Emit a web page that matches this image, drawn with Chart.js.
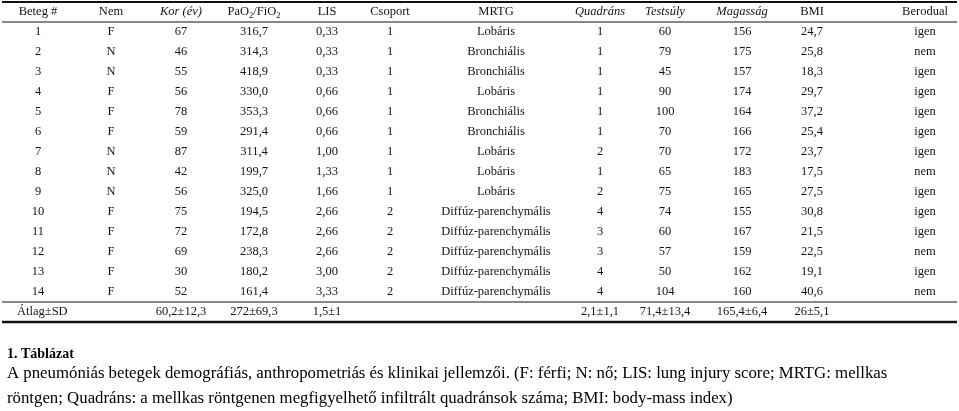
<!DOCTYPE html>
<html>
<head>
<meta charset="utf-8">
<script src="https://cdn.jsdelivr.net/npm/chart.js@4.4.1/dist/chart.umd.min.js"></script>
<style>
  html, body { margin: 0; padding: 0; background: #ffffff; }
  #wrap { width: 959px; height: 411px; }
</style>
</head>
<body>
<div id="wrap"><canvas id="c" width="959" height="411"></canvas></div>
<script>
// ---------------- DATA ----------------
const headers = ['Beteg #', 'Nem', 'Kor (év)', 'PaO_2/FiO_2', 'LIS', 'Csoport', 'MRTG', 'Quadráns', 'Testsúly', 'Magasság', 'BMI', 'Berodual'];
const patientIds = [1, 2, 3, 4, 5, 6, 7, 8, 9, 10, 11, 12, 13, 14];
const sex = ['F', 'N', 'N', 'F', 'F', 'F', 'N', 'N', 'N', 'F', 'F', 'F', 'F', 'F'];
const age = [67, 46, 55, 56, 78, 59, 87, 42, 56, 75, 72, 69, 30, 52];
const paoFio = [316.7, 314.3, 418.9, 330.0, 353.3, 291.4, 311.4, 199.7, 325.0, 194.5, 172.8, 238.3, 180.2, 161.4];
const lis = [0.33, 0.33, 0.33, 0.66, 0.66, 0.66, 1.00, 1.33, 1.66, 2.66, 2.66, 2.66, 3.00, 3.33];
const group = [1, 1, 1, 1, 1, 1, 1, 1, 1, 2, 2, 2, 2, 2];
const mrtg = ['Lobáris', 'Bronchiális', 'Bronchiális', 'Lobáris', 'Bronchiális', 'Bronchiális', 'Lobáris', 'Lobáris', 'Lobáris',
  'Diffúz-parenchymális', 'Diffúz-parenchymális', 'Diffúz-parenchymális', 'Diffúz-parenchymális', 'Diffúz-parenchymális'];
const quadrants = [1, 1, 1, 1, 1, 1, 2, 1, 2, 4, 3, 3, 4, 4];
const bodyWeight = [60, 79, 45, 90, 100, 70, 70, 65, 75, 74, 60, 57, 50, 104];
const bodyHeight = [156, 175, 157, 174, 164, 166, 172, 183, 165, 155, 167, 159, 162, 160];
const bmi = [24.7, 25.8, 18.3, 29.7, 37.2, 25.4, 23.7, 17.5, 27.5, 30.8, 21.5, 22.5, 19.1, 40.6];
const berodual = ['igen', 'nem', 'igen', 'igen', 'igen', 'igen', 'igen', 'nem', 'igen', 'igen', 'igen', 'nem', 'igen', 'nem'];
const summaryLabel = 'Átlag±SD';
const summaryRow = ['', '', '60,2±12,3', '272±69,3', '1,5±1', '', '', '2,1±1,1', '71,4±13,4', '165,4±6,4', '26±5,1', ''];
const captionTitle = '1. Táblázat';
const captionLines = [
  'A pneumóniás betegek demográfiás, anthropometriás és klinikai jellemzői. (F: férfi; N: nő; LIS: lung injury score; MRTG: mellkas',
  'röntgen; Quadráns: a mellkas röntgenen megfigyelhető infiltrált quadránsok száma; BMI: body-mass index)'
];

// ---------------- LAYOUT / STYLE ----------------
const italicHeader = [false, false, true, false, false, false, false, true, true, true, false, false];
const colWidths = [72, 74, 66, 80, 66, 60, 152, 56, 74, 80, 60, 166]; // relative column widths
const tableStart = 2, tableEnd = 957;
const FONT = '"Liberation Serif", "Times New Roman", serif';
const cellSize = 12.5;
const textColor = '#141414';

const fmt = (v, d) => v.toFixed(d).replace('.', ',');
const columns = [
  patientIds.map(String),
  sex,
  age.map(String),
  paoFio.map(v => fmt(v, 1)),
  lis.map(v => fmt(v, 2)),
  group.map(String),
  mrtg,
  quadrants.map(String),
  bodyWeight.map(String),
  bodyHeight.map(String),
  bmi.map(v => fmt(v, 1)),
  berodual
];

const centers = [];
let acc = tableStart;
colWidths.forEach(w => { centers.push(acc + w / 2); acc += w; });

const datasets = columns.map((col, ci) => {
  const texts = [headers[ci]].concat(col).concat([summaryRow[ci]]);
  return {
    label: headers[ci],
    data: texts.map((t, ri) => ({ x: centers[ci], y: ri })),
    texts: texts,
    pointRadius: 0,
    pointHoverRadius: 0,
    showLine: false
  };
});

function drawRich(ctx, text, x, y, size, italic) {
  // supports "_2" style subscripts
  const parts = [];
  let i = 0;
  while (i < text.length) {
    if (text[i] === '_' && i + 1 < text.length) { parts.push({ t: text[i + 1], sub: true }); i += 2; }
    else {
      let j = i; let s = '';
      while (j < text.length && text[j] !== '_') { s += text[j]; j++; }
      parts.push({ t: s, sub: false }); i = j;
    }
  }
  const style = italic ? 'italic ' : '';
  const subSize = size * 0.68;
  let total = 0;
  parts.forEach(p => {
    ctx.font = style + (p.sub ? subSize : size) + 'px ' + FONT;
    p.w = ctx.measureText(p.t).width; total += p.w;
  });
  let cx = x - total / 2;
  ctx.textAlign = 'left';
  parts.forEach(p => {
    ctx.font = style + (p.sub ? subSize : size) + 'px ' + FONT;
    ctx.fillText(p.t, cx, p.sub ? y + size * 0.28 : y);
    cx += p.w;
  });
}

const tablePlugin = {
  id: 'tableText',
  afterDatasetsDraw(chart) {
    const ctx = chart.ctx;
    const xs = chart.scales.x, ys = chart.scales.y;
    ctx.save();
    ctx.fillStyle = textColor;
    ctx.textBaseline = 'middle';
    const lastRow = patientIds.length + 1;
    chart.data.datasets.forEach((ds, ci) => {
      const meta = chart.getDatasetMeta(ci);
      meta.data.forEach((pt, ri) => {
        const t = ds.texts[ri];
        if (!t) return;
        const italic = ri === 0 && italicHeader[ci];
        drawRich(ctx, t, pt.x, pt.y, cellSize, italic);
      });
    });
    // summary label (left-aligned in first column)
    ctx.font = cellSize + 'px ' + FONT;
    ctx.textAlign = 'left';
    ctx.fillText(summaryLabel, xs.getPixelForValue(tableStart + 15), ys.getPixelForValue(lastRow));

    // rules
    const x0 = xs.getPixelForValue(tableStart), x1 = xs.getPixelForValue(tableEnd);
    const rule = (v, w) => {
      const y = ys.getPixelForValue(v);
      ctx.beginPath(); ctx.lineWidth = w; ctx.strokeStyle = '#111';
      ctx.moveTo(x0, y); ctx.lineTo(x1, y); ctx.stroke();
    };
    rule(-0.5, 2.2);
    rule(0.5, 1);
    rule(lastRow - 0.5, 1);
    rule(lastRow + 0.5, 2.4);

    // caption
    const base = ys.getPixelForValue(lastRow);
    ctx.textAlign = 'left';
    ctx.textBaseline = 'alphabetic';
    ctx.fillStyle = '#000';
    ctx.font = 'bold 14px ' + FONT;
    ctx.fillText(captionTitle, 7, base + 46);
    ctx.font = '16.8px ' + FONT;
    captionLines.forEach((l, k) => ctx.fillText(l, 7, base + 66 + k * 25));
    ctx.restore();
  }
};

new Chart(document.getElementById('c'), {
  type: 'scatter',
  data: { datasets: datasets },
  options: {
    responsive: false,
    animation: false,
    devicePixelRatio: 1,
    layout: { padding: { left: 0, right: 0, top: 12, bottom: 99 } },
    scales: {
      x: { type: 'linear', min: 0, max: 959, display: false },
      y: { type: 'linear', min: 0, max: patientIds.length + 1, reverse: true, display: false }
    },
    plugins: { legend: { display: false }, tooltip: { enabled: false }, title: { display: false } },
    events: []
  },
  plugins: [tablePlugin]
});
</script>
</body>
</html>
